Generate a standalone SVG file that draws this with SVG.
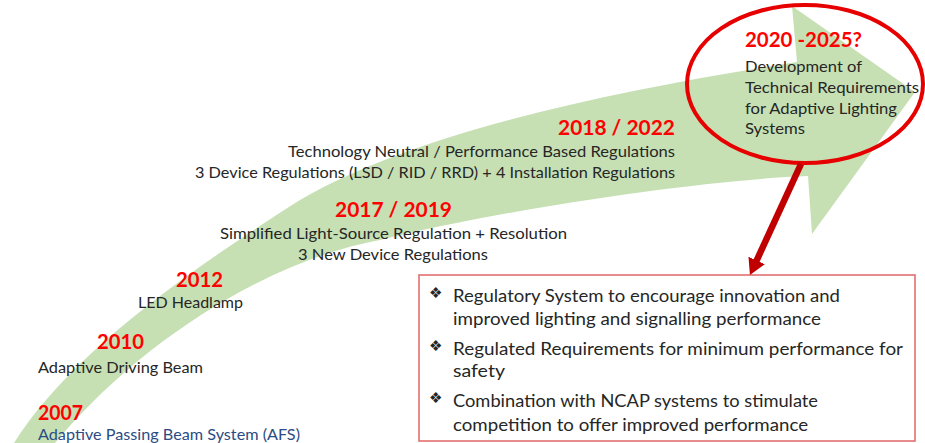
<svg xmlns="http://www.w3.org/2000/svg" width="925" height="443" viewBox="0 0 925 443">
  <style>
    text { font-family: "Lato", "Liberation Sans", sans-serif; }
    .year { font-weight: 700; fill: #ff0000; font-size: 20px; }
    .body { fill: #262626; font-size: 16px; }
    .afs { fill: #2b4c84; font-size: 16px; }
    .item { fill: #262626; font-size: 18px; }
    .bullet { font-family: "DejaVu Sans", sans-serif; font-size: 15px; fill: #262626; }
  </style>
  <defs>
    <marker id="redHead" viewBox="0 0 16 18" refX="2" refY="9" markerWidth="16" markerHeight="18" markerUnits="userSpaceOnUse" orient="auto">
      <path d="M0,0 L16,9 L0,18 Z" fill="#c00000"/>
    </marker>
  </defs>

  <rect width="925" height="443" fill="#ffffff"/>

  <!-- curved timeline arrow -->
  <g id="timeline-arrow">
    <path d="M14,443 C60,370 150,295 300,200 C420,130 620,90 797,62 L792,6 L915,92 L812,234 L808,176 C700,180 500,210 380,240 C280,258 150,330 55,443 L48,455 L8,455 Z" fill="#c6e0b4"/>
  </g>

  <!-- milestones -->
  <g id="m2007">
    <text class="year" x="38" y="420" textLength="45" lengthAdjust="spacingAndGlyphs">2007</text>
    <text class="afs" x="38" y="440" textLength="262" lengthAdjust="spacingAndGlyphs">Adaptive Passing Beam System (AFS)</text>
  </g>
  <g id="m2010">
    <text class="year" x="97" y="349" textLength="47" lengthAdjust="spacingAndGlyphs">2010</text>
    <text class="body" x="38" y="373" textLength="165" lengthAdjust="spacingAndGlyphs">Adaptive Driving Beam</text>
  </g>
  <g id="m2012">
    <text class="year" x="176" y="287" textLength="47" lengthAdjust="spacingAndGlyphs">2012</text>
    <text class="body" x="138" y="308" textLength="105" lengthAdjust="spacingAndGlyphs">LED Headlamp</text>
  </g>
  <g id="m2017">
    <text class="year" x="335" y="217" textLength="117" lengthAdjust="spacingAndGlyphs">2017 / 2019</text>
    <text class="body" x="220" y="239" textLength="347" lengthAdjust="spacingAndGlyphs">Simplified Light-Source Regulation + Resolution</text>
    <text class="body" x="298" y="260" textLength="190" lengthAdjust="spacingAndGlyphs">3 New Device Regulations</text>
  </g>
  <g id="m2018">
    <text class="year" x="558" y="135" textLength="117" lengthAdjust="spacingAndGlyphs">2018 / 2022</text>
    <text class="body" x="288" y="157" textLength="387" lengthAdjust="spacingAndGlyphs">Technology Neutral / Performance Based Regulations</text>
    <text class="body" x="195" y="178" textLength="480" lengthAdjust="spacingAndGlyphs">3 Device Regulations (LSD / RID / RRD) + 4 Installation Regulations</text>
  </g>

  <!-- future milestone, circled -->
  <g id="m2020">
    <ellipse cx="805" cy="84" rx="118" ry="79" fill="none" stroke="#e60000" stroke-width="4"/>
    <text class="year" x="745" y="47" textLength="117" lengthAdjust="spacingAndGlyphs">2020 -2025?</text>
    <text class="body" x="745" y="72" textLength="117" lengthAdjust="spacingAndGlyphs">Development of</text>
    <text class="body" x="745" y="93" textLength="174" lengthAdjust="spacingAndGlyphs">Technical Requirements</text>
    <text class="body" x="745" y="114" textLength="152" lengthAdjust="spacingAndGlyphs">for Adaptive Lighting</text>
    <text class="body" x="745" y="134" textLength="60" lengthAdjust="spacingAndGlyphs">Systems</text>
  </g>

  <!-- goals box -->
  <g id="goals">
    <rect x="419" y="275" width="496" height="166" fill="#ffffff" stroke="#e06666" stroke-width="1.5"/>
    <text class="bullet" x="429" y="298">❖</text>
    <text class="item" x="453" y="302" textLength="387" lengthAdjust="spacingAndGlyphs">Regulatory System to encourage innovation and</text>
    <text class="item" x="453" y="325" textLength="368" lengthAdjust="spacingAndGlyphs">improved lighting and signalling performance</text>
    <text class="bullet" x="429" y="351">❖</text>
    <text class="item" x="453" y="355" textLength="450" lengthAdjust="spacingAndGlyphs">Regulated Requirements for minimum performance for</text>
    <text class="item" x="453" y="377" textLength="52" lengthAdjust="spacingAndGlyphs">safety</text>
    <text class="bullet" x="429" y="403">❖</text>
    <text class="item" x="453" y="407" textLength="365" lengthAdjust="spacingAndGlyphs">Combination with NCAP systems to stimulate</text>
    <text class="item" x="453" y="431" textLength="355" lengthAdjust="spacingAndGlyphs">competition to offer improved performance</text>
  </g>

  <!-- connectors -->
  <g id="connectors">
    <line x1="801" y1="164" x2="755.8" y2="262.3" stroke="#c00000" stroke-width="6.5" marker-end="url(#redHead)"/>
  </g>
</svg>
